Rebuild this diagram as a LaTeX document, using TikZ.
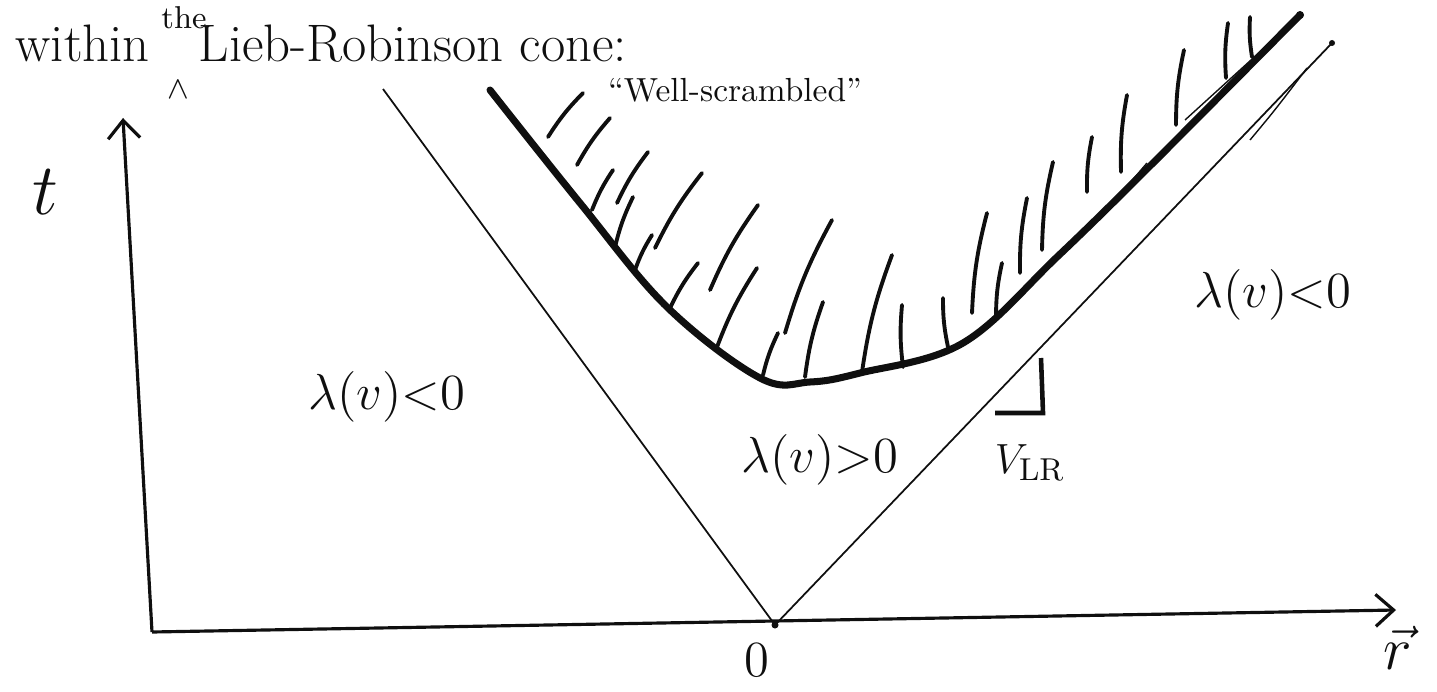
\documentclass[tikz,border=0pt]{standalone}
\usepackage{tikz}
\usetikzlibrary{arrows.meta}
\definecolor{Ink}{RGB}{15,15,15}

\begin{document}
\begin{tikzpicture}[
    x=0.01cm, y=-0.01cm,
    axis/.style={draw=Ink,line width=0.9pt,-{Straight Barb[length=1.8mm,width=3.2mm]}},
    cone/.style={draw=Ink,line width=0.5pt},
    boundary/.style={draw=Ink,line width=2pt,line cap=round},
    retrace/.style={draw=Ink,line width=0.4pt},
    hatch/.style={draw=Ink,line width=1.1pt,line cap=round},
    label/.style={text=Ink,font=\fontsize{14}{16}\selectfont,inner sep=1pt},
    title/.style={text=Ink,font=\fontsize{15}{17}\selectfont,inner sep=0pt}
]
\useasboundingbox (0,0) rectangle (1437,691);

% Title
\node[title,anchor=base west] (within) at (15,62) {within};
\node[title,anchor=base west] (lieb) at (198,62) {Lieb-Robinson cone:};
\node[text=Ink,font=\fontsize{9}{10}\selectfont,inner sep=0pt] (the) at (184,18) {the};
\node[text=Ink,font=\small,inner sep=0pt] (caret) at (178,90) {$\wedge$};

% Axes
\coordinate (corner) at (152,632);
\coordinate (t-top) at (123,118);
\coordinate (r-end) at (1396,610);
\draw[axis] (corner) -- (t-top);
\draw[axis] (corner) -- (r-end);
\node[label,font=\fontsize{20}{22}\selectfont] (t-label) at (45,192) {$t$};
\node[label] (zero) at (757,660) {$0$};
\node[label,font=\fontsize{18}{20}\selectfont] (r-label) at (1398,648) {$\vec{r}$};

% Light cone
\coordinate (origin) at (775,625);
\coordinate (cone-left) at (383,89);
\coordinate (cone-right) at (1332,43);
\draw[cone] (origin) -- (cone-left);
\draw[cone] (origin) -- (cone-right);
\fill[Ink] (origin) circle (3.5);
\fill[Ink] (cone-right) circle (3);
\draw[retrace] (1250,140) .. controls (1275,110) .. (1307,68);

% Well-scrambled boundary
\draw[boundary] plot[smooth,tension=0.6] coordinates {(490,90) (580,203) (667,307)
  (760,378) (810,382) (860,373) (963,343) (1057,257) (1150,166) (1300,15)};
\fill[Ink] (1300,15) circle (4);
\draw[retrace] (1105,212) -- (1147,163);
\draw[retrace] (1185,120) -- (1273,40);

% Hatching
\foreach \xa/\ya/\xb/\yb in {583/93/548/137, 610/118/577/165, 613/170/592/210, 648/152/617/203,
  633/197/615/247, 702/173/655/248, 652/235/635/270, 698/263/670/308, 758/205/710/290,
  757/268/717/347, 778/333/763/375, 832/220/785/333, 823/302/805/377, 892/255/862/372,
  902/305/903/367, 943/298/948/347, 987/213/972/313, 1002/263/996/317, 1027/198/1020/273,
  1053/162/1042/250, 1092/137/1087/192, 1127/95/1121/172, 1184/50/1176/125,
  1228/23/1226/78, 1250/17/1252/57}
  \draw[hatch] (\xa,\ya) to[bend right=6] (\xb,\yb);
\node[text=Ink,font=\fontsize{9.5}{11}\selectfont,inner sep=0pt] (scrambled) at (735,90) {``Well-scrambled''};

% Regions
\node[label] (lam-left) at (387,397) {$\lambda(v){<}0$};
\node[label] (lam-mid) at (820,460) {$\lambda(v){>}0$};
\node[label] (lam-right) at (1273,295) {$\lambda(v){<}0$};

% Slope mark
\coordinate (mark-top) at (1041,358);
\coordinate (mark-corner) at (1043,413);
\coordinate (mark-left) at (995,413);
\draw[Ink,line width=1.3pt] (mark-top) -- (mark-corner) -- (mark-left);
\node[label,font=\fontsize{13}{15}\selectfont] (vlr) at (1030,463) {$V_{\mathrm{LR}}$};

\end{tikzpicture}
\end{document}
